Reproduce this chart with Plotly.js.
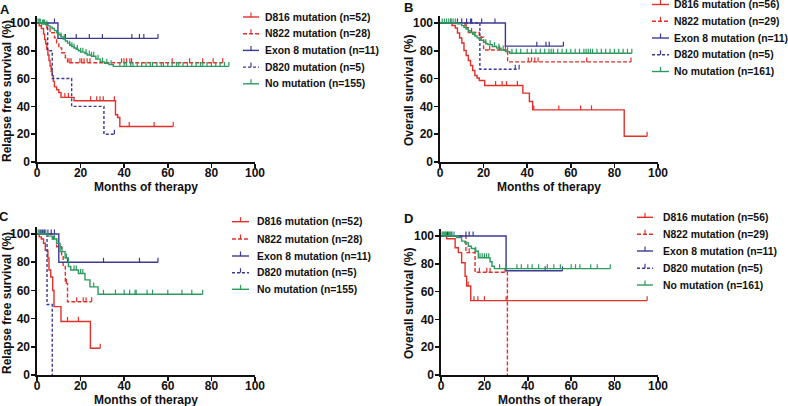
<!DOCTYPE html>
<html><head><meta charset="utf-8">
<script src="https://cdn.plot.ly/plotly-3.0.1.min.js"></script>
<style>html,body{margin:0;padding:0;background:#fff}#chart{width:788px;height:406px}</style>
</head><body><div id="chart"></div>
<script>
// ---------------- DATA ----------------
// Panel A : relapse free survival
var A_d816_t = [0, 1, 2, 3, 3.5, 4, 4.5, 5, 5.5, 6, 6.5, 7, 7.5, 8, 9, 10, 11, 17, 36, 37, 38, 62.5];
var A_d816_s = [100, 98, 96, 92, 88, 85, 81, 77, 73, 69, 65, 62, 58, 54, 52, 50, 46.5, 44, 34, 32, 25.5, 25.5];
var A_d816_c = [12.8, 14.4, 24.6, 27.4, 28.9, 30.4, 35.5, 42.3, 53.7, 62.5];
var A_n822_t = [0, 4.5, 6, 8, 9, 10, 11.3, 13, 14, 85.2];
var A_n822_s = [100, 96.4, 92.9, 89.3, 85.7, 82.1, 78.6, 75, 71.4, 71.4];
var A_n822_c = [14.7, 15.6, 19.7, 20.5, 21.6, 23, 24.3, 38.8, 39.9, 41.1, 42.6, 43.4, 62, 70, 76, 80.8, 85.2];
var A_ex8_t = [0, 9.6, 55.5];
var A_ex8_s = [100, 88.9, 88.9];
var A_ex8_c = [8, 13, 18, 24, 30, 43.5, 47, 49, 55.5];
var A_d820_t = [0, 4.9, 7, 15.9, 30.7, 35.5];
var A_d820_s = [100, 80, 60, 40, 20, 20];
var A_d820_c = [35.5];
var A_none_t = [0, 2, 4, 5, 6, 7, 8, 9, 10, 11, 12, 13, 14, 15, 16, 17, 18, 19, 20, 22, 23, 25, 27, 29, 31, 33, 35, 88];
var A_none_s = [100, 99.3, 98.6, 97.9, 97, 96, 94.5, 93, 91.5, 90, 88.5, 87, 85.5, 84, 83, 82, 81, 80, 79, 78, 77, 76, 74, 72, 71, 70, 68.8, 68.8];
var A_none_c = [0.5, 1, 1.5, 2.5, 3, 3.5, 4.5, 11, 12.5, 15, 16, 17, 18.5, 20, 21, 22.5, 24, 25, 26, 28, 30, 32, 34, 38, 40, 41, 43, 44, 46, 48, 50, 52, 53, 55, 57, 58, 60, 62, 64, 65, 67, 69, 71, 73, 75, 76, 78, 80, 82, 84, 86, 88];

// Panel B : overall survival
var B_d816_t = [0, 5.5, 7, 8, 9, 10, 11, 12, 13, 14, 15, 16, 17, 18, 20.5, 38, 41, 42.5, 84.5, 95];
var B_d816_s = [100, 98.2, 96.4, 92.8, 89.2, 85.6, 80.2, 76.6, 73, 69.4, 65.8, 62.2, 60.4, 58.6, 55, 49.5, 43.5, 37.5, 18.5, 18.5];
var B_d816_c = [25.5, 28.5, 30.5, 35.5, 43, 54.5, 64.5, 69.5, 95];
var B_n822_t = [0, 11.5, 13, 18, 20, 31, 87.6];
var B_n822_s = [100, 96.6, 93.1, 89.7, 80.5, 72, 72];
var B_n822_c = [12, 14.5, 22.8, 27.3, 30, 40.5, 42, 43.5, 45, 67.3, 87.6];
var B_ex8_t = [0, 30, 56.6];
var B_ex8_s = [100, 83.3, 83.3];
var B_ex8_c = [5, 8, 12.2, 14.5, 19.1, 25.2, 44.4, 48.6, 50.1, 56.6];
var B_d820_t = [0, 18.3, 36.3];
var B_d820_s = [100, 66.7, 66.7];
var B_d820_c = [10, 14, 34.5, 36.3];
var B_none_t = [0, 8, 10, 11, 12, 13, 14, 15, 16, 17, 18, 19, 20, 21, 22, 24, 26, 28, 30, 32, 88];
var B_none_s = [100, 99.4, 98.1, 96.9, 95.6, 94.4, 93.1, 91.9, 90.6, 89.4, 88.1, 87.5, 86.3, 85, 84.4, 83.1, 81.9, 80.6, 79.4, 78.2, 78.2];
var B_none_c = [1, 2, 3, 4, 5, 6, 7, 16, 19, 21, 23, 25, 27, 29, 31, 33, 35, 37, 40, 42, 44, 46, 48, 50, 51, 52, 54, 56, 58, 60, 62, 64, 66, 67, 68, 69, 70, 72, 74, 76, 78, 80, 82, 84, 86, 88];

// Panel C : relapse free survival
var C_d816_t = [0, 1, 2, 3, 3.8, 5, 5.5, 6.3, 7.2, 7.8, 11, 24.5, 29];
var C_d816_s = [100, 98, 96.5, 93.5, 88.5, 83, 74.5, 69.5, 60, 48.5, 38, 19, 19];
var C_d816_c = [14, 19, 29];
var C_n822_t = [0, 7.5, 9, 11.3, 12, 13, 14, 25.1];
var C_n822_s = [100, 96.4, 91, 84, 77, 65, 52, 52];
var C_n822_c = [13.5, 18.2, 21.2, 22.5, 25.1];
var C_ex8_t = [0, 10, 55.5];
var C_ex8_s = [100, 80, 80];
var C_ex8_c = [5, 6.5, 8, 14, 30.5, 47, 55.5];
var C_d820_t = [0, 4.6, 7];
var C_d820_s = [100, 50, 0];
var C_d820_c = [1.5, 2.5, 3.5];
var C_none_t = [0, 5, 7, 9, 10.6, 12.9, 14.4, 15.5, 19, 22, 24.3, 28, 76];
var C_none_s = [100, 98.5, 96.5, 93.4, 87.5, 83, 77, 74.5, 72, 67.5, 62.5, 57.3, 57.3];
var C_none_c = [0.5, 1, 2, 3, 4, 8, 11.5, 13.5, 17, 18, 20, 21, 26, 30.5, 36, 40, 42.5, 45, 45.5, 50.5, 53, 60, 66.5, 71, 76];

// Panel D : overall survival
var D_d816_t = [0, 2.6, 6.5, 8, 9.5, 11.1, 11.8, 13.7, 95];
var D_d816_s = [100, 98, 91.5, 88, 80.7, 71, 64, 53.5, 53.5];
var D_d816_c = [12.5, 15.2, 17, 20, 30, 95];
var D_n822_t = [0, 11.5, 15.7, 30.6];
var D_n822_s = [100, 88, 73.9, 0];
var D_n822_c = [13, 17.7, 21.1, 22.6, 29.5];
var D_ex8_t = [0, 30, 56];
var D_ex8_s = [100, 75, 75];
var D_ex8_c = [11.5, 13, 14.8, 48, 56];
var D_d820_t = [0, 5];
var D_d820_s = [100, 100];
var D_d820_c = [3, 5];
var D_none_t = [0, 7.2, 9.5, 11, 12.6, 14, 15.7, 17.2, 22.6, 23.5, 24.6, 78];
var D_none_s = [100, 98.8, 96.3, 95, 92.6, 91, 89, 84.3, 81.5, 78.2, 76.5, 76.5];
var D_none_c = [0.5, 1, 1.5, 2, 2.5, 3.5, 4, 4.5, 6, 16, 18, 19, 20, 21, 22, 27, 30, 35, 37, 40, 42, 45, 49, 52, 55, 60, 62, 64, 69, 72, 78];

var legendRFS = ["D816 mutation (n=52)", "N822 mutation (n=28)", "Exon 8 mutation (n=11)", "D820 mutation (n=5)", "No mutation (n=155)"];
var legendOS  = ["D816 mutation (n=56)", "N822 mutation (n=29)", "Exon 8 mutation (n=11)", "D820 mutation (n=5)", "No mutation (n=161)"];
var xTicks = [0, 20, 40, 60, 80, 100];
var yTicks = [0, 20, 40, 60, 80, 100];

// ---------------- STYLE / LAYOUT ----------------
var W = 788, H = 406;
var RED = '#e2302a', BLUE = '#3b3a98', GREEN = '#2d9a5e';
var styles = [
  {color: RED, dash: 'solid'},
  {color: RED, dash: '4px,2px'},
  {color: BLUE, dash: 'solid'},
  {color: BLUE, dash: '3px,2px'},
  {color: GREEN, dash: 'solid'}
];
var FONT = 'Liberation Sans, Arial, Helvetica, sans-serif';
function PX(x) { return x / W; }
function PY(y) { return 1 - y / H; }

var panels = [
  {name: 'A', series: [[A_d816_t, A_d816_s, A_d816_c], [A_n822_t, A_n822_s, A_n822_c], [A_ex8_t, A_ex8_s, A_ex8_c], [A_d820_t, A_d820_s, A_d820_c], [A_none_t, A_none_s, A_none_c]],
   xpx: [37, 255], ypx: [162, 16], ytitle: 'Relapse free survival (%)', labels: legendRFS,
   leg: {x0: 243, x1: 259, tx: 263, rows: [17, 33.7, 50.4, 67.1, 83.8]}, lab: [5, 9], ytx: 7},
  {name: 'B', series: [[B_d816_t, B_d816_s, B_d816_c], [B_n822_t, B_n822_s, B_n822_c], [B_ex8_t, B_ex8_s, B_ex8_c], [B_d820_t, B_d820_s, B_d820_c], [B_none_t, B_none_s, B_none_c]],
   xpx: [440, 658], ypx: [162, 16], ytitle: 'Overall survival (%)', labels: legendOS,
   leg: {x0: 652, x1: 669, tx: 672, rows: [4.5, 21.3, 38, 54.8, 71.5]}, lab: [408, 8], ytx: 409},
  {name: 'C', series: [[C_d816_t, C_d816_s, C_d816_c], [C_n822_t, C_n822_s, C_n822_c], [C_ex8_t, C_ex8_s, C_ex8_c], [C_d820_t, C_d820_s, C_d820_c], [C_none_t, C_none_s, C_none_c]],
   xpx: [37, 255], ypx: [375, 227], ytitle: 'Relapse free survival (%)', labels: legendRFS,
   leg: {x0: 232, x1: 249, tx: 255, rows: [221.7, 239, 256, 272.7, 289.3]}, lab: [4, 216], ytx: 7},
  {name: 'D', series: [[D_d816_t, D_d816_s, D_d816_c], [D_n822_t, D_n822_s, D_n822_c], [D_ex8_t, D_ex8_s, D_ex8_c], [D_d820_t, D_d820_s, D_d820_c], [D_none_t, D_none_s, D_none_c]],
   xpx: [441, 658], ypx: [375, 229], ytitle: 'Overall survival (%)', labels: legendOS,
   leg: {x0: 637, x1: 653, tx: 661, rows: [217.3, 234.3, 251, 268.3, 285]}, lab: [408, 218], ytx: 409}
];

function stepAt(t, s, x) {
  var v = s[0];
  for (var i = 0; i < t.length; i++) { if (t[i] <= x) v = s[i]; }
  return v;
}

var traces = [], shapes = [], annotations = [];
var layout = {
  width: W, height: H, margin: {l: 0, r: 0, t: 0, b: 0},
  paper_bgcolor: '#fff', plot_bgcolor: '#fff', showlegend: false,
  font: {family: FONT, color: '#111'}
};

panels.forEach(function (p, pi) {
  var sfx = pi === 0 ? '' : String(pi + 1);
  var axStyle = {
    showgrid: false, zeroline: false, showline: true, linecolor: '#111', linewidth: 1.6,
    ticks: 'outside', ticklen: 4, tickwidth: 1.5, tickcolor: '#111',
    tickfont: {family: FONT, size: 12, weight: 'bold', color: '#111'}, fixedrange: true
  };
  layout['xaxis' + sfx] = Object.assign({}, axStyle, {
    domain: [PX(p.xpx[0]), PX(p.xpx[1])], range: [0, 100], tickvals: xTicks,
    anchor: 'y' + sfx, ticklabelstandoff: -5
  });
  layout['yaxis' + sfx] = Object.assign({}, axStyle, {
    domain: [PY(p.ypx[0]), PY(p.ypx[1])], range: [0, 105], tickvals: yTicks,
    anchor: 'x' + sfx, ticklabelstandoff: -1
  });

  p.series.forEach(function (ser, si) {
    var st = styles[si];
    traces.push({
      type: 'scatter', mode: 'lines', x: ser[0], y: ser[1], xaxis: 'x' + sfx, yaxis: 'y' + sfx,
      line: {shape: 'hv', color: st.color, width: 1.4, dash: st.dash}, cliponaxis: false, hoverinfo: 'skip'
    });
    traces.push({
      type: 'scatter', mode: 'markers', x: ser[2],
      y: ser[2].map(function (c) { return stepAt(ser[0], ser[1], c); }),
      xaxis: 'x' + sfx, yaxis: 'y' + sfx,
      marker: {size: 1, color: 'rgba(0,0,0,0)'}, cliponaxis: false, hoverinfo: 'skip',
      error_y: {type: 'constant', value: 3.2, valueminus: 0, symmetric: false, width: 0, thickness: 1.2, color: st.color}
    });
    // legend entry
    var ry = p.leg.rows[si];
    shapes.push({type: 'line', xref: 'paper', yref: 'paper', x0: PX(p.leg.x0), x1: PX(p.leg.x1), y0: PY(ry), y1: PY(ry),
      line: {color: st.color, width: 1.4, dash: st.dash}});
    var mid = (p.leg.x0 + p.leg.x1) / 2;
    shapes.push({type: 'line', xref: 'paper', yref: 'paper', x0: PX(mid), x1: PX(mid), y0: PY(ry), y1: PY(ry - 4.5),
      line: {color: st.color, width: 1.2}});
    annotations.push({xref: 'paper', yref: 'paper', x: PX(p.leg.tx), y: PY(ry), xanchor: 'left', yanchor: 'middle',
      text: p.labels[si], showarrow: false, font: {family: FONT, size: 10.4, weight: 'bold', color: '#111'}});
  });

  // axis titles
  annotations.push({xref: 'paper', yref: 'paper', x: PX((p.xpx[0] + p.xpx[1]) / 2), y: PY(p.ypx[0] + 25),
    xanchor: 'center', yanchor: 'middle', text: 'Months of therapy', showarrow: false,
    font: {family: FONT, size: 12, weight: 'bold', color: '#111'}});
  annotations.push({xref: 'paper', yref: 'paper', x: PX(p.ytx), y: PY((p.ypx[0] + p.ypx[1]) / 2 + 2),
    xanchor: 'center', yanchor: 'middle', textangle: -90, text: p.ytitle, showarrow: false,
    font: {family: FONT, size: 12, weight: 'bold', color: '#111'}});
  // panel letter
  annotations.push({xref: 'paper', yref: 'paper', x: PX(p.lab[0]), y: PY(p.lab[1]),
    xanchor: 'center', yanchor: 'middle', text: p.name, showarrow: false,
    font: {family: FONT, size: 13, weight: 'bold', color: '#111'}});
});

layout.shapes = shapes;
layout.annotations = annotations;
Plotly.newPlot('chart', traces, layout, {displayModeBar: false, staticPlot: true});
</script>
</body></html>
